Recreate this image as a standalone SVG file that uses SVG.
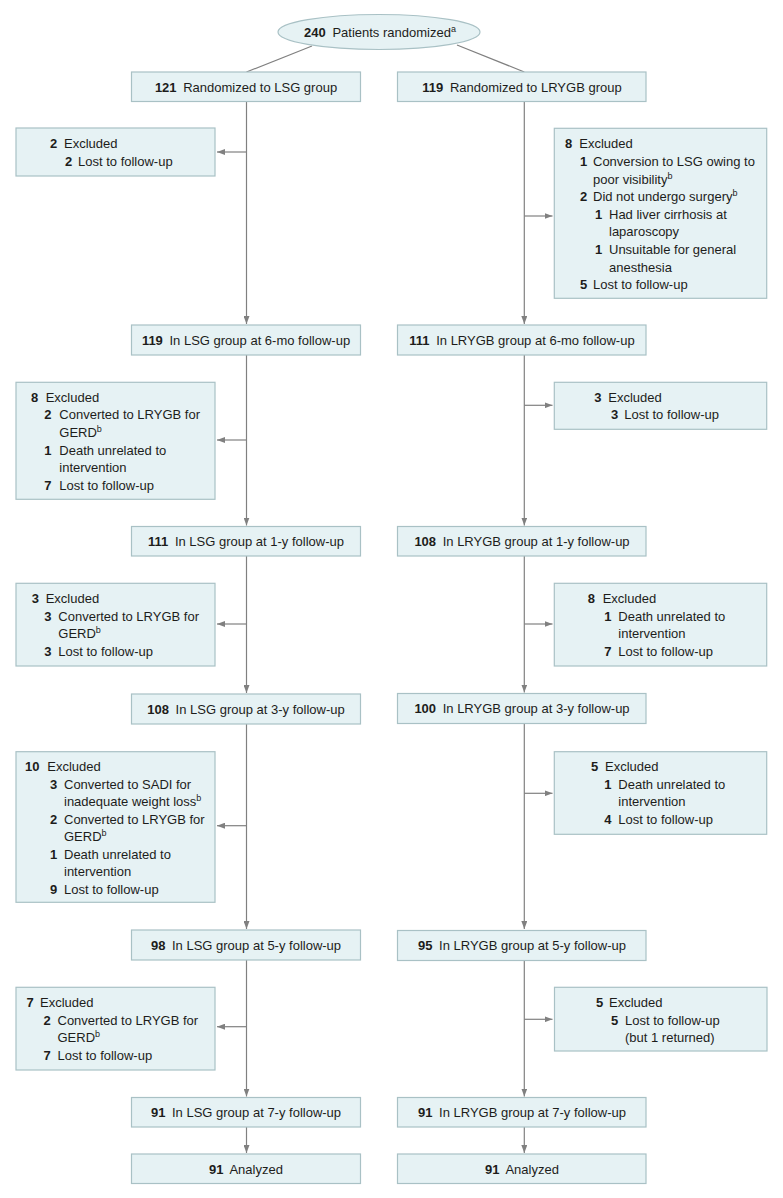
<svg xmlns="http://www.w3.org/2000/svg" width="783" height="1198" viewBox="0 0 783 1198">
<style>
text{font-family:"Liberation Sans",Arial,sans-serif;font-size:13px;fill:#1d1d1b}
.b{font-weight:bold}
.c{text-anchor:middle}
.sup{font-size:9px}
.box{fill:#e6f2f4;stroke:#a9c1c5;stroke-width:1.2}
.ln{stroke:#808080;stroke-width:1.2;fill:none}
</style>
<defs>
<marker id="ah" viewBox="0 0 8 6" refX="8" refY="3" markerWidth="8" markerHeight="6" markerUnits="userSpaceOnUse" orient="auto">
<path d="M0,0 L8,3 L0,6 Z" fill="#808080"/>
</marker>
</defs>
<rect width="783" height="1198" fill="#ffffff"/>
<g id="connectors">
<line class="ln" x1="312" y1="46" x2="246.5" y2="72"/>
<line class="ln" x1="457" y1="45" x2="524.3" y2="72"/>
<line class="ln" x1="246.5" y1="101.5" x2="246.5" y2="324" marker-end="url(#ah)"/>
<line class="ln" x1="246.5" y1="355" x2="246.5" y2="525.5" marker-end="url(#ah)"/>
<line class="ln" x1="246.5" y1="556" x2="246.5" y2="693" marker-end="url(#ah)"/>
<line class="ln" x1="246.5" y1="724" x2="246.5" y2="929" marker-end="url(#ah)"/>
<line class="ln" x1="246.5" y1="960" x2="246.5" y2="1096.5" marker-end="url(#ah)"/>
<line class="ln" x1="246.5" y1="1127" x2="246.5" y2="1153" marker-end="url(#ah)"/>
<line class="ln" x1="524.3" y1="101.5" x2="524.3" y2="324" marker-end="url(#ah)"/>
<line class="ln" x1="524.3" y1="355" x2="524.3" y2="525.5" marker-end="url(#ah)"/>
<line class="ln" x1="524.3" y1="556" x2="524.3" y2="692.5" marker-end="url(#ah)"/>
<line class="ln" x1="524.3" y1="723.5" x2="524.3" y2="929" marker-end="url(#ah)"/>
<line class="ln" x1="524.3" y1="960" x2="524.3" y2="1096.5" marker-end="url(#ah)"/>
<line class="ln" x1="524.3" y1="1127" x2="524.3" y2="1153" marker-end="url(#ah)"/>
<line class="ln" x1="246.5" y1="152" x2="217" y2="152" marker-end="url(#ah)"/>
<line class="ln" x1="246.5" y1="440" x2="217" y2="440" marker-end="url(#ah)"/>
<line class="ln" x1="246.5" y1="624" x2="217" y2="624" marker-end="url(#ah)"/>
<line class="ln" x1="246.5" y1="825.7" x2="217" y2="825.7" marker-end="url(#ah)"/>
<line class="ln" x1="246.5" y1="1026.7" x2="217" y2="1026.7" marker-end="url(#ah)"/>
<line class="ln" x1="524.3" y1="216" x2="552.5" y2="216" marker-end="url(#ah)"/>
<line class="ln" x1="524.3" y1="405.3" x2="552.5" y2="405.3" marker-end="url(#ah)"/>
<line class="ln" x1="524.3" y1="624" x2="552.5" y2="624" marker-end="url(#ah)"/>
<line class="ln" x1="524.3" y1="793.3" x2="552.5" y2="793.3" marker-end="url(#ah)"/>
<line class="ln" x1="524.3" y1="1019.3" x2="552.5" y2="1019.3" marker-end="url(#ah)"/>
</g>
<g id="randomized">
<ellipse class="box" cx="379" cy="32" rx="101" ry="17.5"/>
<text x="380" y="37" class="c"><tspan class="b">240</tspan><tspan dx="3"> Patients randomized</tspan><tspan class="sup" dy="-5">a</tspan></text>
</g>
<g id="lsg-randomized">
<rect class="box" x="131.5" y="72" width="229" height="29.5"/>
<text x="246" y="91.7" class="c"><tspan class="b">121</tspan><tspan dx="3"> Randomized to LSG group</tspan></text>
</g>
<g id="lrygb-randomized">
<rect class="box" x="397.5" y="72" width="248.5" height="29.5"/>
<text x="522" y="91.7" class="c"><tspan class="b">119</tspan><tspan dx="3"> Randomized to LRYGB group</tspan></text>
</g>
<g id="lsg-excl-1">
<rect class="box" x="16" y="128" width="199" height="48"/>
<text y="147.7"><tspan class="b" x="50">2</tspan><tspan x="64">Excluded</tspan></text>
<text y="165.8"><tspan class="b" x="65">2</tspan><tspan x="78">Lost to follow-up</tspan></text>
</g>
<g id="lrygb-excl-1">
<rect class="box" x="554.3" y="128.3" width="212.4" height="170"/>
<text y="148.3"><tspan class="b" x="565">8</tspan><tspan x="579.3">Excluded</tspan></text>
<text y="165.9"><tspan class="b" x="580">1</tspan><tspan x="593">Conversion to LSG owing to</tspan></text>
<text y="183.5"><tspan x="593">poor visibility</tspan><tspan class="sup" dy="-5">b</tspan></text>
<text y="201.1"><tspan class="b" x="580">2</tspan><tspan x="593">Did not undergo surgery</tspan><tspan class="sup" dy="-5">b</tspan></text>
<text y="218.7"><tspan class="b" x="595">1</tspan><tspan x="609">Had liver cirrhosis at</tspan></text>
<text y="236.3"><tspan x="609">laparoscopy</tspan></text>
<text y="253.9"><tspan class="b" x="595">1</tspan><tspan x="609">Unsuitable for general</tspan></text>
<text y="271.5"><tspan x="609">anesthesia</tspan></text>
<text y="289.1"><tspan class="b" x="580">5</tspan><tspan x="593">Lost to follow-up</tspan></text>
</g>
<g id="lsg-6mo">
<rect class="box" x="131.5" y="325" width="229" height="30"/>
<text x="246" y="344.7" class="c"><tspan class="b">119</tspan><tspan dx="3"> In LSG group at 6-mo follow-up</tspan></text>
</g>
<g id="lrygb-6mo">
<rect class="box" x="397.5" y="325" width="248.5" height="30"/>
<text x="522" y="344.7" class="c"><tspan class="b">111</tspan><tspan dx="3"> In LRYGB group at 6-mo follow-up</tspan></text>
</g>
<g id="lsg-excl-2">
<rect class="box" x="16" y="382.3" width="199" height="117"/>
<text y="401.7"><tspan class="b" x="31">8</tspan><tspan x="45.7">Excluded</tspan></text>
<text y="419.3"><tspan class="b" x="44.3">2</tspan><tspan x="59.3">Converted to LRYGB for</tspan></text>
<text y="436.9"><tspan x="59.3">GERD</tspan><tspan class="sup" dy="-5">b</tspan></text>
<text y="454.5"><tspan class="b" x="44.3">1</tspan><tspan x="59.3">Death unrelated to</tspan></text>
<text y="472.1"><tspan x="59.3">intervention</tspan></text>
<text y="489.7"><tspan class="b" x="44.3">7</tspan><tspan x="59.3">Lost to follow-up</tspan></text>
</g>
<g id="lrygb-excl-2">
<rect class="box" x="554.3" y="382.3" width="212.4" height="47"/>
<text y="401.7"><tspan class="b" x="594.3">3</tspan><tspan x="608.3">Excluded</tspan></text>
<text y="419.3"><tspan class="b" x="611">3</tspan><tspan x="624.3">Lost to follow-up</tspan></text>
</g>
<g id="lsg-1y">
<rect class="box" x="131.5" y="526.5" width="229" height="29.5"/>
<text x="246" y="546" class="c"><tspan class="b">111</tspan><tspan dx="3"> In LSG group at 1-y follow-up</tspan></text>
</g>
<g id="lrygb-1y">
<rect class="box" x="397.5" y="526.5" width="248.5" height="29.5"/>
<text x="522" y="546" class="c"><tspan class="b">108</tspan><tspan dx="3"> In LRYGB group at 1-y follow-up</tspan></text>
</g>
<g id="lsg-excl-3">
<rect class="box" x="16" y="583.3" width="199" height="82.7"/>
<text y="603.2"><tspan class="b" x="31.7">3</tspan><tspan x="45.7">Excluded</tspan></text>
<text y="620.8"><tspan class="b" x="44.3">3</tspan><tspan x="58.3">Converted to LRYGB for</tspan></text>
<text y="638.4"><tspan x="58.3">GERD</tspan><tspan class="sup" dy="-5">b</tspan></text>
<text y="656"><tspan class="b" x="44.3">3</tspan><tspan x="58.3">Lost to follow-up</tspan></text>
</g>
<g id="lrygb-excl-3">
<rect class="box" x="554.3" y="583.3" width="212.4" height="82.7"/>
<text y="603.2"><tspan class="b" x="587.7">8</tspan><tspan x="602.7">Excluded</tspan></text>
<text y="620.8"><tspan class="b" x="604.3">1</tspan><tspan x="618.3">Death unrelated to</tspan></text>
<text y="638.4"><tspan x="618.3">intervention</tspan></text>
<text y="656"><tspan class="b" x="604.3">7</tspan><tspan x="618.3">Lost to follow-up</tspan></text>
</g>
<g id="lsg-3y">
<rect class="box" x="131.5" y="694" width="229" height="30"/>
<text x="246" y="713.7" class="c"><tspan class="b">108</tspan><tspan dx="3"> In LSG group at 3-y follow-up</tspan></text>
</g>
<g id="lrygb-3y">
<rect class="box" x="397.5" y="693.5" width="248.5" height="30"/>
<text x="522" y="713.2" class="c"><tspan class="b">100</tspan><tspan dx="3"> In LRYGB group at 3-y follow-up</tspan></text>
</g>
<g id="lsg-excl-4">
<rect class="box" x="16" y="751.7" width="199" height="150.6"/>
<text y="771"><tspan class="b" x="25">10</tspan><tspan x="47.3">Excluded</tspan></text>
<text y="788.5"><tspan class="b" x="50">3</tspan><tspan x="64">Converted to SADI for</tspan></text>
<text y="806"><tspan x="64">inadequate weight loss</tspan><tspan class="sup" dy="-5">b</tspan></text>
<text y="823.5"><tspan class="b" x="50">2</tspan><tspan x="64">Converted to LRYGB for</tspan></text>
<text y="841"><tspan x="64">GERD</tspan><tspan class="sup" dy="-5">b</tspan></text>
<text y="858.5"><tspan class="b" x="50">1</tspan><tspan x="64">Death unrelated to</tspan></text>
<text y="876"><tspan x="64">intervention</tspan></text>
<text y="893.5"><tspan class="b" x="50">9</tspan><tspan x="64">Lost to follow-up</tspan></text>
</g>
<g id="lrygb-excl-4">
<rect class="box" x="554.3" y="751.7" width="212.4" height="82.6"/>
<text y="771"><tspan class="b" x="591">5</tspan><tspan x="605">Excluded</tspan></text>
<text y="788.6"><tspan class="b" x="604.3">1</tspan><tspan x="618.3">Death unrelated to</tspan></text>
<text y="806.2"><tspan x="618.3">intervention</tspan></text>
<text y="823.8"><tspan class="b" x="604.3">4</tspan><tspan x="618.3">Lost to follow-up</tspan></text>
</g>
<g id="lsg-5y">
<rect class="box" x="131.5" y="930" width="229" height="30"/>
<text x="246" y="949.7" class="c"><tspan class="b">98</tspan><tspan dx="3"> In LSG group at 5-y follow-up</tspan></text>
</g>
<g id="lrygb-5y">
<rect class="box" x="397.5" y="930.5" width="248.5" height="30"/>
<text x="522" y="950.2" class="c"><tspan class="b">95</tspan><tspan dx="3"> In LRYGB group at 5-y follow-up</tspan></text>
</g>
<g id="lsg-excl-5">
<rect class="box" x="16" y="987.3" width="199" height="82.7"/>
<text y="1007.2"><tspan class="b" x="26.5">7</tspan><tspan x="40">Excluded</tspan></text>
<text y="1024.8"><tspan class="b" x="43.5">2</tspan><tspan x="57.5">Converted to LRYGB for</tspan></text>
<text y="1042.4"><tspan x="57.5">GERD</tspan><tspan class="sup" dy="-5">b</tspan></text>
<text y="1060"><tspan class="b" x="43.5">7</tspan><tspan x="57.5">Lost to follow-up</tspan></text>
</g>
<g id="lrygb-excl-5">
<rect class="box" x="554.5" y="987.3" width="212.5" height="63.7"/>
<text y="1007.2"><tspan class="b" x="596">5</tspan><tspan x="609">Excluded</tspan></text>
<text y="1024.8"><tspan class="b" x="611">5</tspan><tspan x="625">Lost to follow-up</tspan></text>
<text y="1042.4"><tspan x="625">(but 1 returned)</tspan></text>
</g>
<g id="lsg-7y">
<rect class="box" x="131.5" y="1097.5" width="229" height="29.5"/>
<text x="246" y="1117" class="c"><tspan class="b">91</tspan><tspan dx="3"> In LSG group at 7-y follow-up</tspan></text>
</g>
<g id="lrygb-7y">
<rect class="box" x="397.5" y="1097.5" width="248.5" height="29.5"/>
<text x="522" y="1117" class="c"><tspan class="b">91</tspan><tspan dx="3"> In LRYGB group at 7-y follow-up</tspan></text>
</g>
<g id="lsg-analyzed">
<rect class="box" x="131.5" y="1154" width="229" height="29.5"/>
<text x="246" y="1173.5" class="c"><tspan class="b">91</tspan><tspan dx="3"> Analyzed</tspan></text>
</g>
<g id="lrygb-analyzed">
<rect class="box" x="397.5" y="1154" width="248.5" height="29.5"/>
<text x="522" y="1173.5" class="c"><tspan class="b">91</tspan><tspan dx="3"> Analyzed</tspan></text>
</g>
</svg>
